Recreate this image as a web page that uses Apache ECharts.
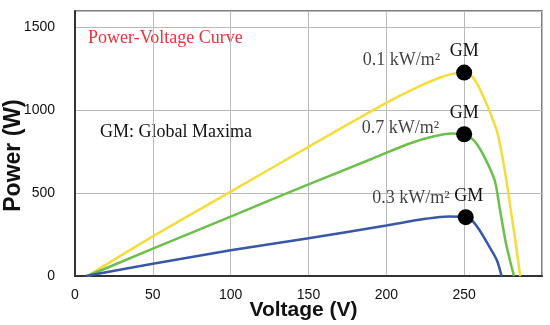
<!DOCTYPE html>
<html><head><meta charset="utf-8">
<script src="https://cdn.jsdelivr.net/npm/echarts@6/dist/echarts.min.js"></script>
<style>html,body{margin:0;padding:0;background:#fff}#c{width:550px;height:325px}</style>
</head><body><div id="c"></div>
<script>
// Voltage (V) and power (W) samples
const yellowV = [8, 50, 100, 150, 200, 220, 235, 245, 251, 256, 260, 265, 271, 274, 277, 280, 283, 286];
const yellowP = [0, 239, 509, 780, 1045, 1140, 1200, 1225, 1228, 1195, 1130, 1025, 876, 745, 585, 395, 205, 0];
const greenV = [8, 50, 100, 150, 190, 215, 230, 242, 250, 256, 260, 264, 267, 270, 273, 277, 282];
const greenP = [0, 165, 359, 553, 705, 800, 842, 860, 856, 820, 770, 700, 640, 565, 400, 190, 0];
const blueV = [7, 50, 100, 150, 200, 225, 240, 250, 255, 260, 266, 271, 274];
const blueP = [0, 74, 155, 228, 305, 345, 360, 358, 335, 275, 180, 95, 0];
const gmV = [250, 250, 251];
const gmP = [1228, 856, 355];
const irradianceLabels = ['0.1 kW/m\u00b2', '0.7 kW/m\u00b2', '0.3 kW/m\u00b2'];
const xTicks = [0, 50, 100, 150, 200, 250];
const yTicks = [0, 500, 1000, 1500];

const zip = (a, b) => a.map((v, i) => [v, b[i]]);
const serif = 'Liberation Serif, Times New Roman, serif';
const tickFont = 'Liberation Sans, Arial, sans-serif';
const irrOffsets = [[-24, -12], [-25, -6], [-16, -19]];
const gmOffsets = [[0, 0], [0, 0], [3, 0]];

const chart = echarts.init(document.getElementById('c'), null, {renderer: 'canvas'});
chart.setOption({
  animation: false,
  grid: {left: 75, right: 8, top: 11, bottom: 49, outerBoundsMode: 'none', containLabel: false,
    show: true, borderColor: '#555', borderWidth: 1.5, backgroundColor: 'transparent'},
  xAxis: {
    type: 'value', min: 0, max: 300, interval: 50,
    name: 'Voltage (V)', nameLocation: 'middle', nameGap: 24, nameMoveOverlap: false,
    nameTextStyle: {fontFamily: 'Liberation Sans, Arial, sans-serif', fontWeight: 'bold', fontSize: 21, color: '#111', padding: [0, 10, 0, 0]},
    axisLine: {show: true, lineStyle: {color: '#333', width: 2}},
    axisTick: {show: false},
    axisLabel: {showMaxLabel: false, margin: 12, fontFamily: tickFont, fontSize: 14, color: '#111',
      formatter: v => xTicks.includes(v) ? String(v) : ''},
    splitLine: {show: true, lineStyle: {color: '#bbb', width: 1}}
  },
  yAxis: {
    type: 'value', min: 0, max: 1600, interval: 500,
    name: 'Power (W)', nameLocation: 'middle', nameGap: 50, nameMoveOverlap: false,
    nameTextStyle: {fontFamily: 'Liberation Sans, Arial, sans-serif', fontWeight: 'bold', fontSize: 23, color: '#111', padding: [0, 24, 0, 0]},
    axisLine: {show: true, lineStyle: {color: '#333', width: 2}},
    axisTick: {show: false},
    axisLabel: {showMaxLabel: false, margin: 20, fontFamily: tickFont, fontSize: 14, color: '#111',
      formatter: v => yTicks.includes(v) ? String(v) : ''},
    splitLine: {show: true, lineStyle: {color: '#bbb', width: 1}}
  },
  series: [
    {type: 'line', data: zip(yellowV, yellowP), smooth: 0.3, showSymbol: false, lineStyle: {color: '#f4dc3c', width: 2.5}},
    {type: 'line', data: zip(greenV, greenP), smooth: 0.3, showSymbol: false, lineStyle: {color: '#6cbf4a', width: 2.5}},
    {type: 'line', data: zip(blueV, blueP), smooth: 0.3, showSymbol: false, lineStyle: {color: '#3a56a8', width: 2.5}},
    {type: 'scatter', symbolSize: 16, itemStyle: {color: '#000', opacity: 1}, z: 5,
      data: gmV.map((v, i) => ({value: [v, gmP[i]], label: {offset: gmOffsets[i]}})),
      label: {show: true, position: 'top', distance: 4, formatter: 'GM', fontFamily: serif, fontSize: 18, color: '#111'}},
    {type: 'scatter', symbolSize: 0, silent: true, z: 5,
      data: gmV.map((v, i) => ({value: [v, gmP[i]], label: {offset: irrOffsets[i], formatter: irradianceLabels[i]}})),
      label: {show: true, position: 'left', distance: 0, fontFamily: serif, fontSize: 18, color: '#111'}}
  ],
  graphic: [
    {type: 'text', left: 88, top: 29, style: {text: 'Power-Voltage Curve', font: '18px ' + serif, fill: '#e4343c'}},
    {type: 'text', left: 100, top: 123, style: {text: 'GM: Global Maxima', font: '18px ' + serif, fill: '#111'}}
  ]
});
</script></body></html>
